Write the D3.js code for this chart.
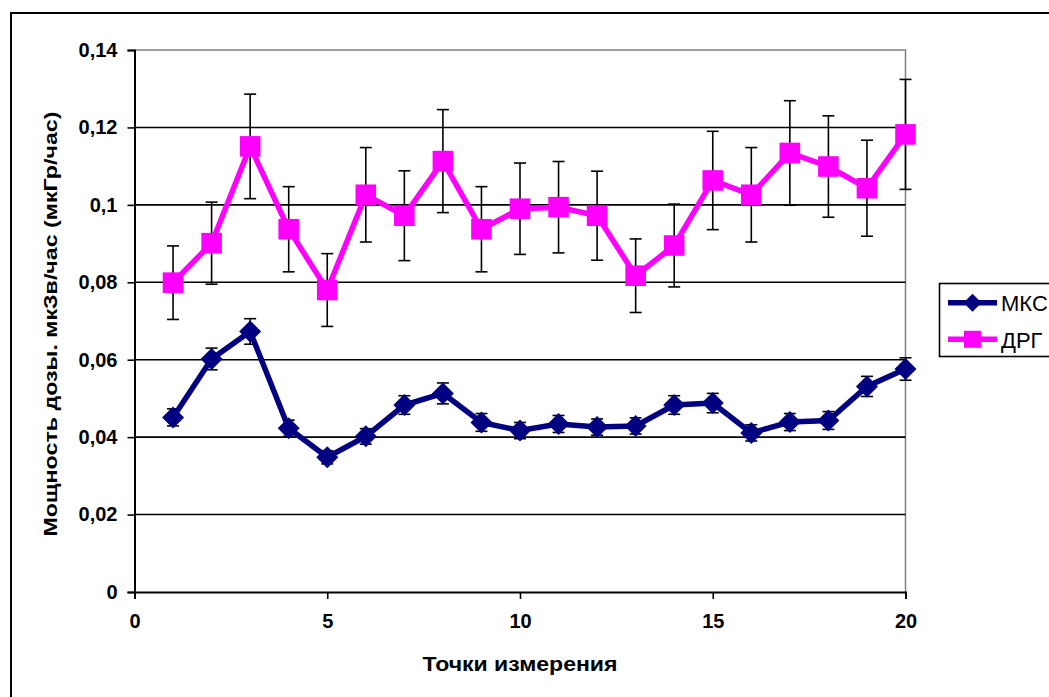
<!DOCTYPE html>
<html>
<head>
<meta charset="utf-8">
<script src="https://cdn.jsdelivr.net/npm/d3@7"></script>
<style>
  html, body { margin: 0; padding: 0; background: #fff; }
  svg { display: block; }
  text { font-family: "Liberation Sans", Arial, sans-serif; }
</style>
</head>
<body>
<svg id="chart" width="1049" height="697"></svg>
<script>
// Measurement points
const points = [1,2,3,4,5,6,7,8,9,10,11,12,13,14,15,16,17,18,19,20];

// МКС dose rate and its error
const mksValues = [0.0451,0.0602,0.0673,0.0423,0.0348,0.0402,0.0483,0.0513,0.0438,0.0417,
                   0.0434,0.0426,0.0429,0.0483,0.0488,0.0411,0.0439,0.0443,0.0531,0.0576];
const mksErrors = [0.0022,0.0028,0.0033,0.0021,0.0017,0.0020,0.0024,0.0027,0.0023,0.0021,
                   0.0022,0.0021,0.0021,0.0024,0.0025,0.0021,0.0022,0.0023,0.0026,0.0029];

// ДРГ dose rate and its error
const drgValues = [0.0799,0.0901,0.1151,0.0937,0.0780,0.1026,0.0972,0.1113,0.0937,0.0990,
                   0.0994,0.0972,0.0817,0.0895,0.1063,0.1026,0.1134,0.1099,0.1043,0.1182];
const drgErrors = [0.0095,0.0106,0.0135,0.0110,0.0094,0.0122,0.0116,0.0133,0.0110,0.0118,
                   0.0118,0.0115,0.0095,0.0107,0.0127,0.0122,0.0135,0.0131,0.0124,0.0142];

const xTicks = [0, 5, 10, 15, 20];
const yTicks = [0, 0.02, 0.04, 0.06, 0.08, 0.1, 0.12, 0.14];
const seriesNames = ["МКС", "ДРГ"];
const seriesColors = ["#000080", "#ff00ff"];
const yTitle = "Мощность дозы. мкЗв/час (мкГр/час)";
const xTitle = "Точки измерения";

const svg = d3.select("#chart");
const plot = { left: 134.5, right: 905.5, top: 50, bottom: 592 };

const x = d3.scaleLinear().domain([0, 20]).range([plot.left, plot.right]);
const y = d3.scaleLinear().domain([0, 0.14]).range([plot.bottom, plot.top]);
const fmt = v => String(v).replace(".", ",");

// outer chart frame (runs past the right and bottom edges)
svg.append("rect")
  .attr("x", 11).attr("y", 13).attr("width", 1100).attr("height", 750)
  .attr("fill", "none").attr("stroke", "#000").attr("stroke-width", 2);

// plot border: top and right in grey
svg.append("path")
  .attr("d", `M${plot.left},${y(0.14)}H${plot.right}V${plot.bottom}`)
  .attr("fill", "none").attr("stroke", "#808080").attr("stroke-width", 1.5);

// horizontal gridlines
svg.append("g").selectAll("line")
  .data(yTicks.filter(v => v > 0 && v < 0.14))
  .join("line")
  .attr("x1", plot.left).attr("x2", plot.right)
  .attr("y1", d => y(d)).attr("y2", d => y(d))
  .attr("stroke", "#000").attr("stroke-width", 1.6);

// y axis
const yAxis = svg.append("g")
  .attr("transform", `translate(${plot.left},0)`)
  .call(d3.axisLeft(y).tickValues(yTicks).tickFormat(fmt).tickSize(7).tickPadding(10));
yAxis.select(".domain").attr("stroke", "#000").attr("stroke-width", 2);
yAxis.selectAll(".tick line").attr("stroke", "#000").attr("stroke-width", 1.6);
yAxis.selectAll(".tick text")
  .attr("font-size", 20).attr("font-weight", "bold").attr("fill", "#000")
  .attr("font-family", "Liberation Sans, Arial, sans-serif");

// x axis
const xAxis = svg.append("g")
  .attr("transform", `translate(0,${plot.bottom})`)
  .call(d3.axisBottom(x).tickValues(xTicks).tickFormat(d3.format("d")).tickSize(7).tickPadding(15));
xAxis.select(".domain").attr("stroke", "#000").attr("stroke-width", 2);
xAxis.selectAll(".tick line").attr("stroke", "#000").attr("stroke-width", 1.6);
xAxis.selectAll(".tick text")
  .attr("font-size", 20).attr("font-weight", "bold").attr("fill", "#000")
  .attr("font-family", "Liberation Sans, Arial, sans-serif");

// axis titles
svg.append("text")
  .attr("transform", `translate(57,${324}) rotate(-90)`)
  .attr("text-anchor", "middle")
  .attr("font-size", 19).attr("font-weight", "bold")
  .attr("textLength", 425).attr("lengthAdjust", "spacingAndGlyphs")
  .text(yTitle);

svg.append("text")
  .attr("x", 520).attr("y", 671)
  .attr("text-anchor", "middle")
  .attr("font-size", 20).attr("font-weight", "bold")
  .attr("textLength", 195).attr("lengthAdjust", "spacingAndGlyphs")
  .text(xTitle);

const series = [
  { name: seriesNames[0], color: seriesColors[0], values: mksValues, errors: mksErrors, marker: "diamond" },
  { name: seriesNames[1], color: seriesColors[1], values: drgValues, errors: drgErrors, marker: "square" }
];

const diamond = (cx, cy, r) => `M${cx},${cy - r}L${cx + r},${cy}L${cx},${cy + r}L${cx - r},${cy}Z`;
const square = (cx, cy, r) => `M${cx - r},${cy - r}H${cx + r}V${cy + r}H${cx - r}Z`;
const markerPath = (kind, cx, cy) => kind === "diamond" ? diamond(cx, cy, 11) : square(cx, cy, 10.3);

// error bars
series.forEach(s => {
  const g = svg.append("g").attr("stroke", "#000").attr("stroke-width", 1.6);
  points.forEach((p, i) => {
    const hi = y(s.values[i] + s.errors[i]);
    const lo = y(s.values[i] - s.errors[i]);
    const cx = x(p);
    g.append("line").attr("x1", cx).attr("x2", cx).attr("y1", hi).attr("y2", lo);
    g.append("line").attr("x1", cx - 6).attr("x2", cx + 6).attr("y1", hi).attr("y2", hi);
    g.append("line").attr("x1", cx - 6).attr("x2", cx + 6).attr("y1", lo).attr("y2", lo);
  });
});

// series lines and markers
const line = d3.line().x(d => x(d[0])).y(d => y(d[1]));
series.forEach(s => {
  const data = points.map((p, i) => [p, s.values[i]]);
  svg.append("path")
    .attr("d", line(data))
    .attr("fill", "none").attr("stroke", s.color)
    .attr("stroke-width", 5.5).attr("stroke-linejoin", "miter");
  svg.append("g").selectAll("path")
    .data(data).join("path")
    .attr("d", d => markerPath(s.marker, x(d[0]), y(d[1])))
    .attr("fill", s.color);
});

// legend
const legend = svg.append("g");
legend.append("rect")
  .attr("x", 939.5).attr("y", 283.5).attr("width", 200).attr("height", 73)
  .attr("fill", "#fff").attr("stroke", "#000").attr("stroke-width", 1.6);
series.forEach((s, i) => {
  const ly = 302.7 + i * 36.6;
  legend.append("line")
    .attr("x1", 948).attr("x2", 997).attr("y1", ly).attr("y2", ly)
    .attr("stroke", s.color).attr("stroke-width", 5.5);
  legend.append("path")
    .attr("d", s.marker === "diamond" ? diamond(972.5, ly, 9) : square(972.5, ly, 8.5))
    .attr("fill", s.color);
  legend.append("text")
    .attr("x", 1001).attr("y", ly + 8.5)
    .attr("font-size", 22).attr("fill", "#000")
    .text(s.name);
});
</script>
</body>
</html>
